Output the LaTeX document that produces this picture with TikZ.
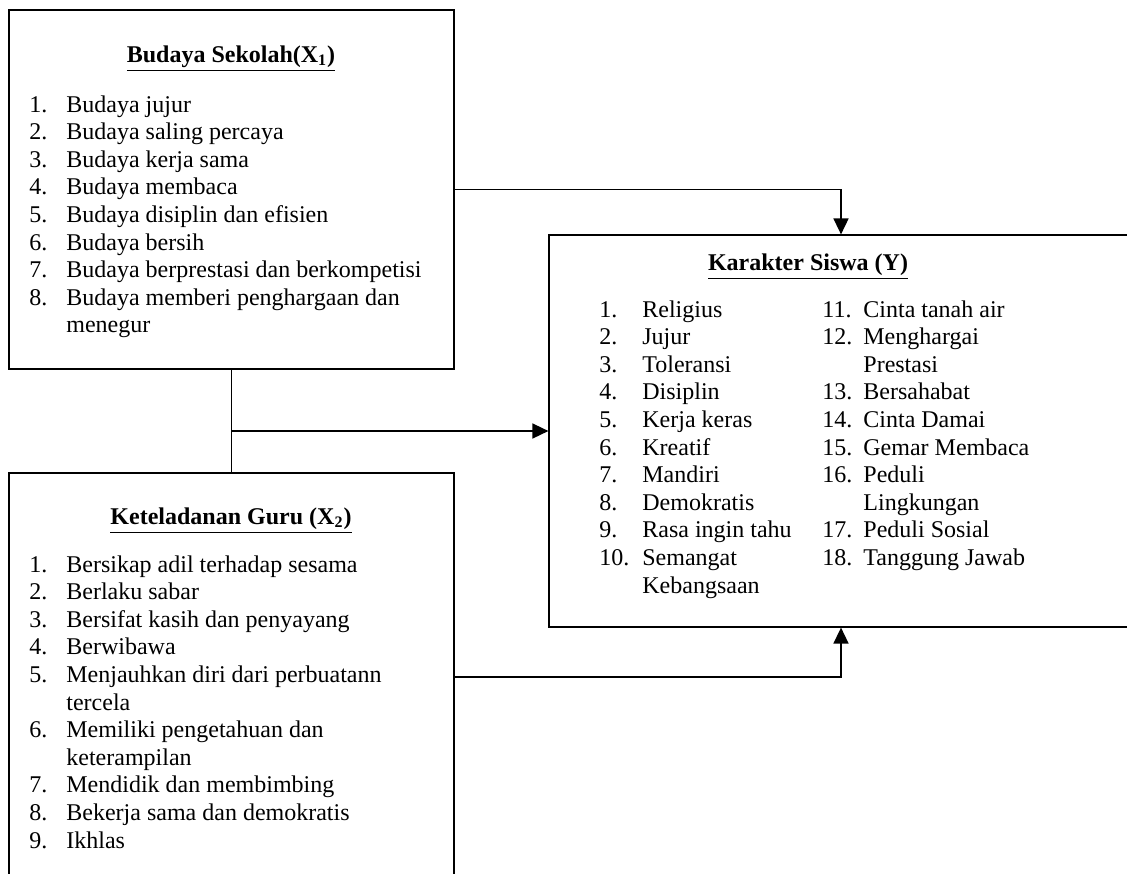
\documentclass[tikz,border=0pt]{standalone}
\usepackage{fontspec}
\setmainfont{Liberation Serif}
\usetikzlibrary{arrows.meta,calc}

\tikzset{
  box/.style={draw,line width=0.6pt,inner sep=0pt},
  txt/.style={inner sep=0pt,anchor=base west,font=\fontsize{12}{13.8}\selectfont},
  head/.style={inner sep=0pt,anchor=base,font=\fontsize{12}{13.8}\selectfont\bfseries},
  conn/.style={line width=0.8pt,-{Triangle[length=8pt,width=7.5pt]}},
  link/.style={line width=0.8pt}
}

\begin{document}
\begin{tikzpicture}[x=0.5pt,y=-0.5pt]
\useasboundingbox (0,0) rectangle (1127,873);
\clip (0,0) rectangle (1127,873);

% Budaya Sekolah
\node (sekolah) at (231.5,189.5)[box,minimum width=222.5pt, minimum height = 179.5pt]{};
\node (sekolahT) at (231,62)[head]{\underline{Budaya Sekolah(X\textsubscript{1})}};
\node (sekolahL) at (29,112)[txt]{\begin{tabular}[t]{@{}p{18.5pt}@{}l@{}}
1. & Budaya jujur\\
2. & Budaya saling percaya\\
3. & Budaya kerja sama\\
4. & Budaya membaca\\
5. & Budaya disiplin dan efisien\\
6. & Budaya bersih\\
7. & Budaya berprestasi dan berkompetisi\\
8. & Budaya memberi penghargaan dan\\
   & menegur
\end{tabular}};

% Keteladanan Guru
\node (guru) at (231.5,677)[box,minimum width=222.5pt, minimum height = 204pt]{};
\node (guruT) at (231,524)[head]{\underline{Keteladanan Guru (X\textsubscript{2})}};
\node (guruL) at (29,572)[txt]{\begin{tabular}[t]{@{}p{18.5pt}@{}l@{}}
1. & Bersikap adil terhadap sesama\\
2. & Berlaku sabar\\
3. & Bersifat kasih dan penyayang\\
4. & Berwibawa\\
5. & Menjauhkan diri dari perbuatann\\
   & tercela\\
6. & Memiliki pengetahuan dan\\
   & keterampilan\\
7. & Mendidik dan membimbing\\
8. & Bekerja sama dan demokratis\\
9. & Ikhlas
\end{tabular}};

% Karakter Siswa
\node (siswa) at (841,431)[box,minimum width=292pt, minimum height = 196pt]{};
\node (siswaT) at (808,270)[head]{\underline{Karakter Siswa (Y)}};
\node (siswaA) at (599,317)[txt]{\begin{tabular}[t]{@{}p{21.5pt}@{}l@{}}
1. & Religius\\
2. & Jujur\\
3. & Toleransi\\
4. & Disiplin\\
5. & Kerja keras\\
6. & Kreatif\\
7. & Mandiri\\
8. & Demokratis\\
9. & Rasa ingin tahu\\
10. & Semangat\\
    & Kebangsaan
\end{tabular}};
\node (siswaB) at (822,317)[txt]{\begin{tabular}[t]{@{}p{20.5pt}@{}l@{}}
11. & Cinta tanah air\\
12. & Menghargai\\
    & Prestasi\\
13. & Bersahabat\\
14. & Cinta Damai\\
15. & Gemar Membaca\\
16. & Peduli\\
    & Lingkungan\\
17. & Peduli Sosial\\
18. & Tanggung Jawab
\end{tabular}};

% connectors
\draw[conn] (sekolah.east) -| (siswa.north);
\draw[conn] (guru.east) -| (siswa.south);
\draw[link] (sekolah.south) -- (guru.north);
\draw[conn] (sekolah.south |- siswa.west) -- (siswa.west);
\end{tikzpicture}
\end{document}
